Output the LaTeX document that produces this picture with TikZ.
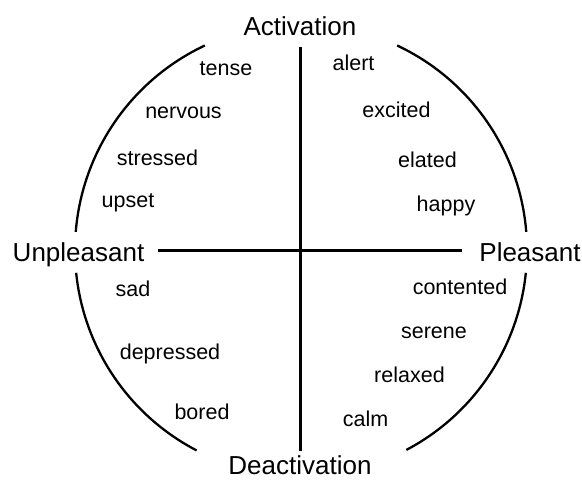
\documentclass[tikz,border=0pt]{standalone}
\usepackage{fontspec}
\setmainfont{Liberation Sans}
\begin{document}
\begin{tikzpicture}[x=1pt,y=-1pt,
  axislabel/.style={anchor=base,inner sep=0pt,font=\fontsize{26}{30}\selectfont},
  mood/.style={anchor=base,inner sep=0pt,font=\fontsize{21.5}{26}\selectfont},
  ring/.style={line width=2.3pt},
  axis/.style={line width=3pt}]
\useasboundingbox[fill=white] (0,0) rectangle (582,481);

% centre of the circumplex
\coordinate (O) at (301,250);

% circle, broken where the axis labels sit
\draw[ring] ([shift={(4.6:226pt)}]O) arc[start angle=4.6,end angle=64.8,radius=226pt];
\draw[ring] ([shift={(115.2:226pt)}]O) arc[start angle=115.2,end angle=175.4,radius=226pt];
\draw[ring] ([shift={(185.8:226pt)}]O) arc[start angle=185.8,end angle=242.5,radius=226pt];
\draw[ring] ([shift={(297.8:226pt)}]O) arc[start angle=297.8,end angle=354.2,radius=226pt];

% axis labels
\node[axislabel] (act) at (300,36) {Activation};
\node[axislabel] (deact) at (300,475) {Deactivation};
\node[axislabel] (unpl) at (78.5,262) {Unpleasant};
\node[axislabel] (pl) at (530,262) {Pleasant};

% axes
\coordinate (vtop) at (300,47);
\coordinate (vbot) at (300,451);
\coordinate (hleft) at (158,251);
\coordinate (hright) at (462,251);
\draw[axis] (vtop) -- (vbot);
\draw[axis] (hleft) -- (hright);

% upper left quadrant
\node[mood] (tense) at (226,76) {tense};
\node[mood] (nervous) at (183.5,119) {nervous};
\node[mood] (stressed) at (157.5,166) {stressed};
\node[mood] (upset) at (128,208) {upset};

% upper right quadrant
\node[mood] (alert) at (353.5,71) {alert};
\node[mood] (excited) at (396.5,118) {excited};
\node[mood] (elated) at (427.5,168) {elated};
\node[mood] (happy) at (446,212) {happy};

% lower left quadrant
\node[mood] (sad) at (133,297) {sad};
\node[mood] (depressed) at (170,360) {depressed};
\node[mood] (bored) at (202,420) {bored};

% lower right quadrant
\node[mood] (contented) at (460,295) {contented};
\node[mood] (serene) at (434,339) {serene};
\node[mood] (relaxed) at (409.5,383) {relaxed};
\node[mood] (calm) at (365.5,427) {calm};
\end{tikzpicture}
\end{document}
